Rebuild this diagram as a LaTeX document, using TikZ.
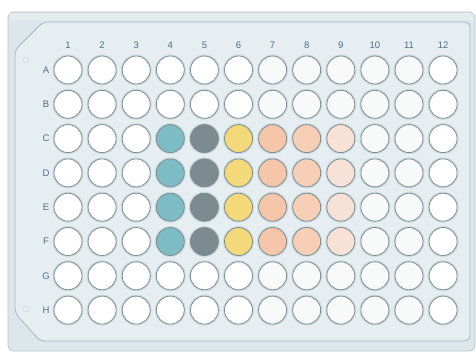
\documentclass[tikz,border=0pt]{standalone}
\usepackage{fontspec}
\setmainfont{Liberation Sans}
\definecolor{plateout}{HTML}{DDE6EA}
\definecolor{plateedge}{HTML}{B4C4CB}
\definecolor{platein}{HTML}{E6EEF1}
\definecolor{inedge}{HTML}{A3B7BF}
\definecolor{wellring}{HTML}{7F8D91}
\definecolor{halo}{HTML}{CCDCE1}
\definecolor{lab}{HTML}{4D6E8C}
\definecolor{cteal}{HTML}{7DBCC4}
\definecolor{cgrey}{HTML}{7B8B90}
\definecolor{cyel}{HTML}{F3D97A}
\definecolor{cpeach}{HTML}{F6C6AA}
\definecolor{cpeachb}{HTML}{F7CEB6}
\definecolor{cpale}{HTML}{F8E1D6}
\definecolor{cwhite}{HTML}{FFFFFF}
\definecolor{coff}{HTML}{F8FAFA}
\begin{document}
\begin{tikzpicture}[x=1pt,y=-1pt,
  well/.style={circle,draw=wellring,line width=0.8pt,minimum size=28pt,inner sep=0pt},
  halo/.style={circle,fill=halo,minimum size=31pt,inner sep=0pt},
  lbl/.style={text=lab,font=\fontsize{9.5}{9.5}\selectfont,inner sep=0pt},
  hole/.style={circle,draw=halo,fill=platein,minimum size=6pt,inner sep=0pt,line width=0.6pt}]
\useasboundingbox (0,0) rectangle (476,355);
% outer plate
\path[fill=plateout,draw=plateedge,line width=0.8pt,rounded corners=6pt] (8,12) rectangle (475,351);
\path[fill=white,opacity=0.25] (9,13) rectangle (474,20);
% inner panel
\path[fill=platein,draw=inedge,line width=0.8pt,rounded corners=5pt]
  (15,50) -- (43,22) -- (470,22) -- (470,341) -- (40,341) -- (15,313) -- cycle;
% holes
\node[hole] (h1) at (26,60) {};
\node[hole] (h2) at (26,309) {};
% wells
\foreach \r [count=\i from 0] in {A,B,C,D,E,F,G,H}{
  \node[lbl] (r\r) at (46,{70+\i*34.3}) {\r};
  \foreach \c in {1,...,12}{
    \pgfmathsetmacro{\xx}{68+(\c-1)*34.1}
    \pgfmathsetmacro{\yy}{70+\i*34.3}
    \def\fc{cwhite}
    \ifnum\c>6 \def\fc{coff}\fi
    \ifnum\c=12 \def\fc{cwhite}\fi
    \ifnum\i>1 \ifnum\i<6
      \ifnum\c=4 \def\fc{cteal}\fi
      \ifnum\c=5 \def\fc{cgrey}\fi
      \ifnum\c=6 \def\fc{cyel}\fi
      \ifnum\c=7 \def\fc{cpeach}\fi
      \ifnum\c=8 \def\fc{cpeachb}\fi
      \ifnum\c=9 \def\fc{cpale}\fi
    \fi\fi
    \node[halo] at (\xx,\yy) {};
    \node[well,fill=\fc] (w\r\c) at (\xx,\yy) {};
  }
}
\foreach \c in {1,...,12}{
  \node[lbl] (c\c) at ({68+(\c-1)*34.1},45) {\c};
}
\end{tikzpicture}
\end{document}
